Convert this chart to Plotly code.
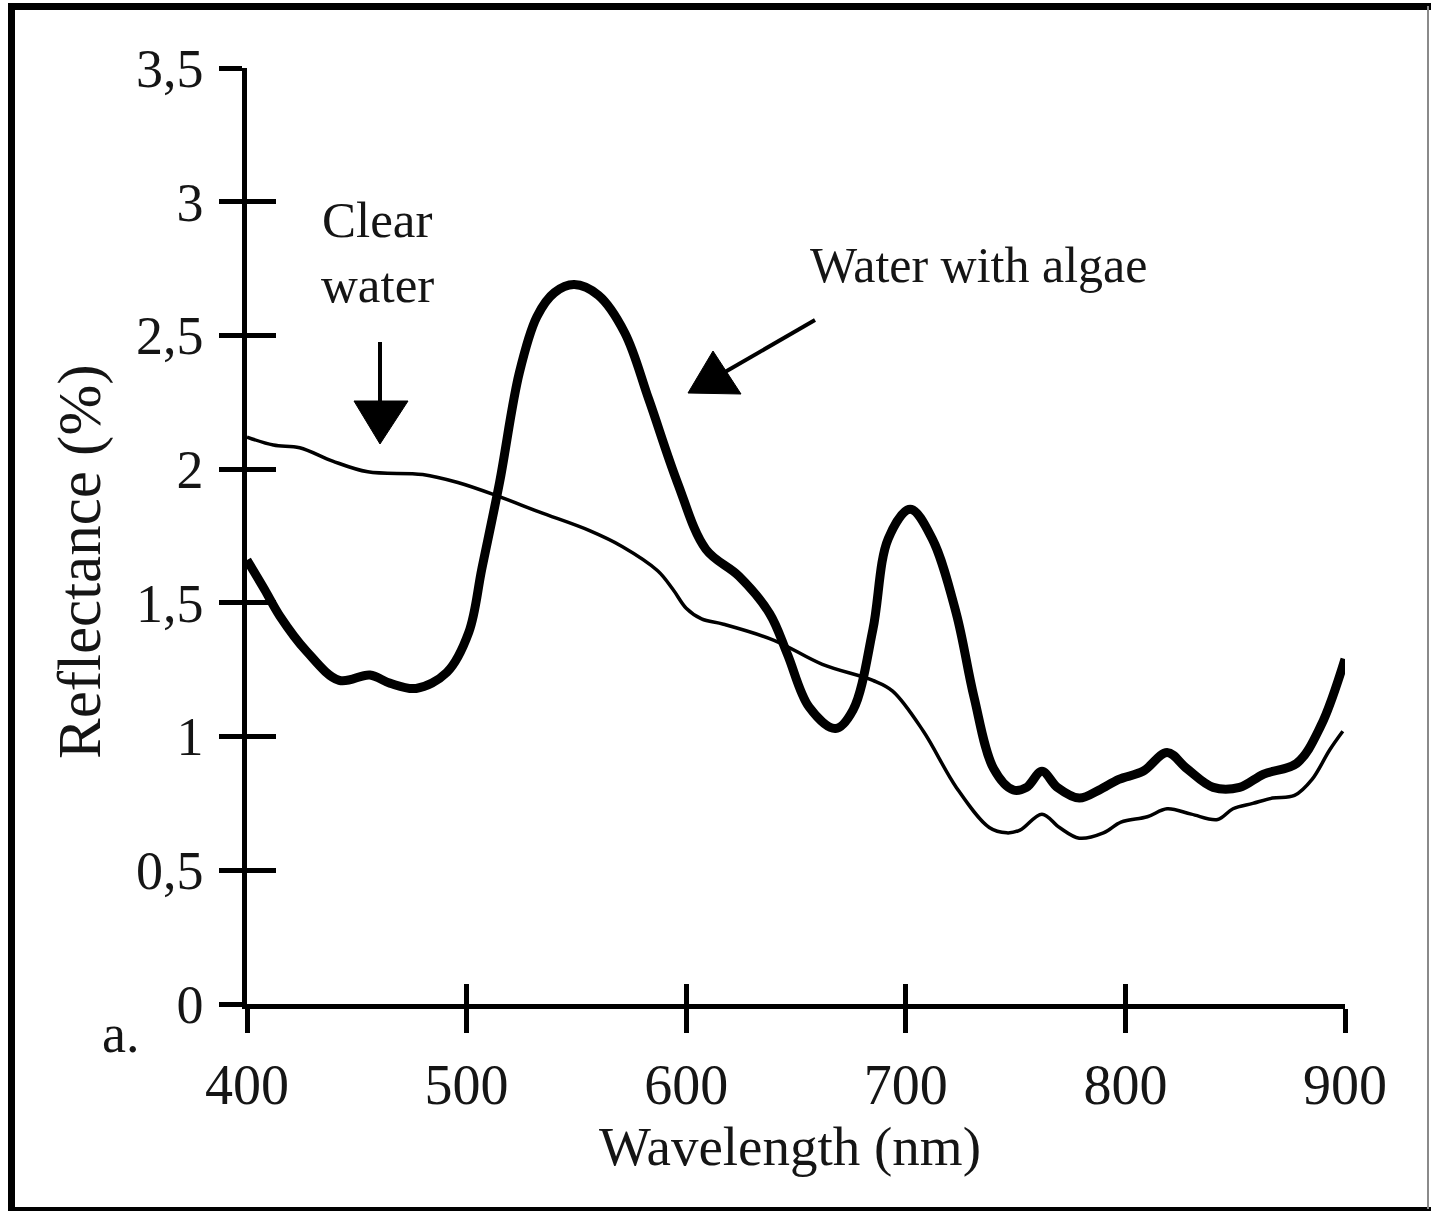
import plotly.graph_objects as go

# ---------------- data ----------------
clear_wl = [400, 412, 424, 439, 455, 480, 496, 514, 533, 556, 571, 587, 594, 600,
            607, 617, 640, 662, 685, 694, 708, 723, 738, 746, 752, 762, 770, 779, 790,
            798, 810, 819, 830, 842, 849, 858, 867, 877, 885, 893, 899]
clear_r = [2.12, 2.09, 2.08, 2.03, 1.99, 1.98, 1.95, 1.90, 1.84, 1.77, 1.71, 1.62, 1.55, 1.48,
           1.44, 1.42, 1.36, 1.27, 1.21, 1.17, 1.02, 0.81, 0.66, 0.64, 0.65, 0.71, 0.66, 0.62, 0.64,
           0.68, 0.70, 0.73, 0.71, 0.69, 0.73, 0.75, 0.77, 0.78, 0.84, 0.95, 1.02]

algae_wl = [400, 408, 415, 427, 442, 456, 465, 477, 491, 501, 507, 515, 524, 532,
            540, 549, 560, 572, 583, 596, 609, 624, 638, 646, 656, 668, 676, 685, 692,
            702, 712, 723, 731, 740, 749, 755, 762, 769, 779, 788, 797, 808, 819,
            828, 840, 852, 863, 878, 889, 900]
algae_r = [1.66, 1.55, 1.45, 1.32, 1.21, 1.23, 1.20, 1.18, 1.24, 1.39, 1.63, 1.95, 2.36, 2.57,
           2.66, 2.69, 2.65, 2.51, 2.26, 1.95, 1.70, 1.60, 1.46, 1.31, 1.11, 1.03, 1.10, 1.40, 1.74,
           1.85, 1.74, 1.46, 1.15, 0.88, 0.80, 0.81, 0.87, 0.81, 0.77, 0.80, 0.84, 0.87, 0.94,
           0.88, 0.81, 0.81, 0.86, 0.90, 1.04, 1.29]

x_ticks = [400, 500, 600, 700, 800, 900]
x_ticktext = ["400", "500", "600", "700", "800", "900"]
y_ticks = [0, 0.5, 1, 1.5, 2, 2.5, 3, 3.5]
y_ticktext = ["0", "0,5", "1", "1,5", "2", "2,5", "3", "3,5"]

x_title = "Wavelength (nm)"
y_title = "Reflectance (%)"
label_clear = ["Clear", "water"]
label_algae = "Water with algae"
panel_label = "a."

# ---------------- layout geometry ----------------
W, H = 1431, 1211
L, R, T, B = 247, 1345, 68, 1004
FONT = "Liberation Serif, Times New Roman, serif"
INK = "#151515"


def px(X):
    return (X - L) / (R - L)


def py(Y):
    return (B - Y) / (B - T)


fig = go.Figure()
fig.add_trace(go.Scatter(x=algae_wl, y=algae_r, mode="lines",
                         line=dict(color="black", width=9, shape="spline", smoothing=1.0),
                         showlegend=False, hoverinfo="x+y"))
fig.add_trace(go.Scatter(x=clear_wl, y=clear_r, mode="lines", xaxis="x2", yaxis="y2",
                         line=dict(color="black", width=3.5, shape="spline", smoothing=1.0),
                         showlegend=False, hoverinfo="x+y"))

axis_common = dict(showgrid=False, zeroline=False, tickcolor="black", tickwidth=4.5)
fig.update_layout(
    width=W, height=H,
    margin=dict(l=L, r=W - R, t=T, b=H - B),
    paper_bgcolor="white", plot_bgcolor="white",
    font=dict(family=FONT, color=INK),
    xaxis=dict(range=[400, 900], tickvals=x_ticks, ticktext=x_ticktext, ticks="outside",
               ticklen=24, showline=True, linewidth=4.5, linecolor="black",
               tickfont=dict(size=56, family=FONT, color=INK), ticklabelstandoff=4,
               **axis_common),
    xaxis2=dict(range=[400, 900], overlaying="x", anchor="y", side="bottom",
                tickvals=x_ticks, ticks="inside", ticklen=20, showticklabels=False,
                showline=False, **axis_common),
    yaxis=dict(range=[0, 3.5], tickvals=y_ticks, ticktext=y_ticktext, ticks="outside",
               ticklen=23, showline=True, linewidth=4.5, linecolor="black",
               tickfont=dict(size=54, family=FONT, color=INK), ticklabelstandoff=5,
               **axis_common),
    yaxis2=dict(range=[0, 3.5], overlaying="y", anchor="x", side="left",
                tickvals=y_ticks, ticks="inside", ticklen=29, showticklabels=False,
                showline=False, **axis_common),
)

# ---------------- text ----------------
def text(X, Y, s, size, angle=0):
    fig.add_annotation(x=px(X), y=py(Y), xref="paper", yref="paper", text=s,
                       showarrow=False, xanchor="center", yanchor="middle",
                       textangle=angle, font=dict(size=size, family=FONT, color=INK))


text(790, 1146, x_title, 55)
text(80, 562, y_title, 61, angle=-90)
text(377, 220, label_clear[0], 51)
text(377, 285, label_clear[1], 51)
text(978, 265, label_algae, 50)
text(120, 1034, panel_label, 54)

# ---------------- arrows (annotation graphics) ----------------
shapes = []
# clear water arrow
shapes.append(dict(type="line", xref="paper", yref="paper",
                   x0=px(380), y0=py(342), x1=px(380), y1=py(405),
                   line=dict(color="black", width=4)))
shapes.append(dict(type="path", xref="paper", yref="paper",
                   path=f"M {px(354)},{py(401)} L {px(408)},{py(401)} L {px(380)},{py(444)} Z",
                   fillcolor="black", line=dict(color="black", width=1)))
# algae arrow
shapes.append(dict(type="line", xref="paper", yref="paper",
                   x0=px(815), y0=py(320), x1=px(725), y1=py(372),
                   line=dict(color="black", width=4)))
shapes.append(dict(type="path", xref="paper", yref="paper",
                   path=f"M {px(688)},{py(393)} L {px(713)},{py(351)} L {px(741)},{py(394)} Z",
                   fillcolor="black", line=dict(color="black", width=1)))

# ---------------- outer frame ----------------
shapes.append(dict(type="line", xref="paper", yref="paper",
                   x0=px(11.5), y0=py(3), x1=px(11.5), y1=py(1211),
                   line=dict(color="black", width=7)))
shapes.append(dict(type="line", xref="paper", yref="paper",
                   x0=px(8), y0=py(6.5), x1=px(1431), y1=py(6.5),
                   line=dict(color="black", width=7)))
shapes.append(dict(type="line", xref="paper", yref="paper",
                   x0=px(8), y0=py(1209), x1=px(1431), y1=py(1209),
                   line=dict(color="black", width=4)))
shapes.append(dict(type="line", xref="paper", yref="paper",
                   x0=px(1428), y0=py(6), x1=px(1428), y1=py(1209),
                   line=dict(color="#8a8a8a", width=2)))
fig.update_layout(shapes=shapes)

fig.write_html("out.html")
